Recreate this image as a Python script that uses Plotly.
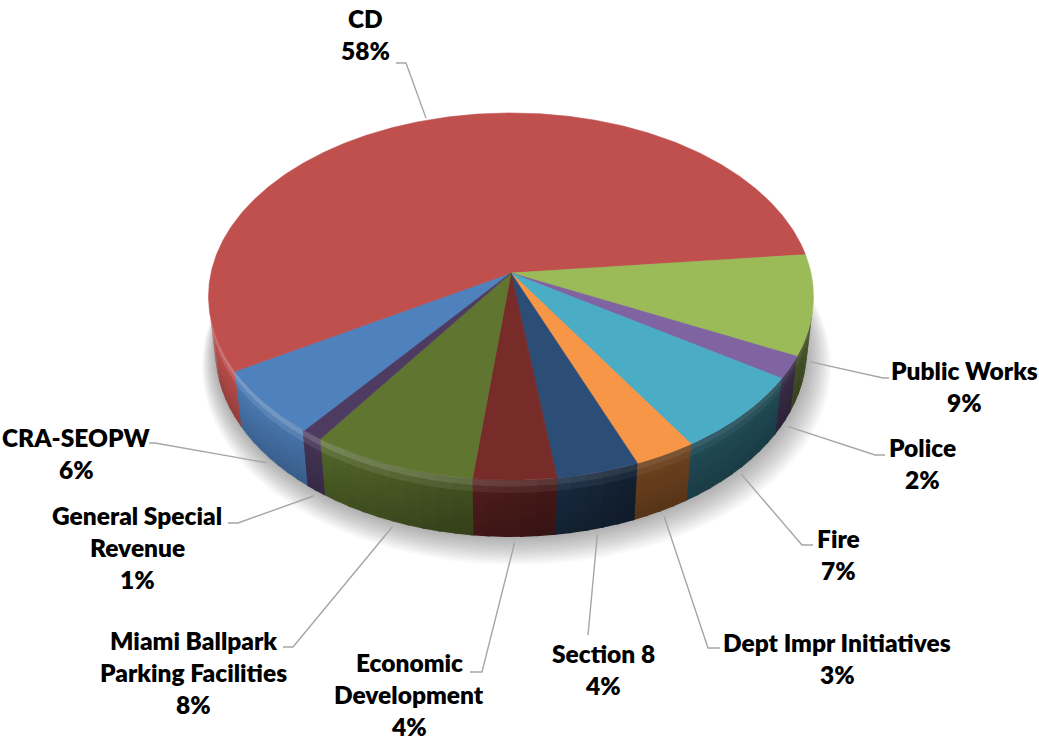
import numpy as np
import plotly.graph_objects as go

# Share of funding by department (percent, as labelled), clockwise order
categories = [
    "CRA-SEOPW",
    "CD",
    "Public Works",
    "Police",
    "Fire",
    "Dept Impr Initiatives",
    "Section 8",
    "Economic<br>Development",
    "Miami Ballpark<br>Parking Facilities",
    "General Special<br>Revenue",
]
percent = [6, 58, 9, 2, 7, 3, 4, 4, 8, 1]
colors = ["#4F81BD", "#C0504D", "#9BBB59", "#8064A2", "#4BACC6",
          "#F79646", "#2C4D75", "#772C2A", "#5F7530", "#4D3B62"]

# Label placement: centre x, y of first text line, leader elbow, leader end
label_layout = {
    "CRA-SEOPW": (76, 437, (155, 443), (149, 443)),
    "CD": (365, 18, (406, 63), (396, 63)),
    "Public Works": (964, 370, (883, 378), (889, 378)),
    "Police": (922, 447, (875, 455), (885, 455)),
    "Fire": (838, 538, (802, 545), (813, 545)),
    "Dept Impr Initiatives": (837, 642, (708, 648), (720, 648)),
    "Section 8": (603, 653, (588, 635), (588, 635)),
    "Economic<br>Development": (409, 662, (482, 672), (470, 672)),
    "Miami Ballpark<br>Parking Facilities": (193, 640, (293, 647), (283, 647)),
    "General Special<br>Revenue": (137, 515, (238, 523), (228, 523)),
}
LINE_GAP = 32.0

W, H = 1039, 742

# --- perspective projection of a tilted 3D disc -------------------------
CX, CY = 511, 273          # screen position of the pie centre
TILT = np.radians(37)
COS_T, SIN_T = np.cos(TILT), np.sin(TILT)
DIST = 6.23
FOCAL = 1869
THICK = 0.2316
START = 231.8              # angle where the first slice begins (deg)
LIGHT_DIR = 200.0          # wall facing this way is lit the most


def project(t_deg, r=1.0, z=0.0):
    t = np.radians(np.asarray(t_deg, dtype=float))
    X = r * np.cos(t)
    Y = r * np.sin(t)
    yv = Y * SIN_T + z * COS_T
    d = DIST + Y * COS_T - z * SIN_T
    return CX + FOCAL * X / d, CY - FOCAL * yv / d


def shade(hex_color, factor, mix_white=0.0):
    h = hex_color.lstrip("#")
    rgb = np.array([int(h[i:i + 2], 16) for i in (0, 2, 4)], dtype=float)
    rgb = rgb * factor
    rgb = rgb * (1 - mix_white) + 255 * mix_white
    rgb = np.clip(rgb, 0, 255).astype(int)
    return "rgb(%d,%d,%d)" % tuple(rgb)


def poly(fig, xs, ys, color):
    fig.add_trace(go.Scatter(x=xs, y=ys, fill="toself", mode="lines",
                             line=dict(width=0), fillcolor=color,
                             hoverinfo="skip"))


total = float(sum(percent))
spans = [p / total * 360.0 for p in percent]
bounds = []
a = START
for s in spans:
    bounds.append((a - s, a))   # (low, high), drawn clockwise
    a -= s

fig = go.Figure()

# soft drop shadow under the disc
tt_all = np.linspace(0, 360, 361)
for k in range(14, 0, -1):
    sx, sy = project(tt_all, r=1.0 + 0.0045 * k, z=-THICK)
    fig.add_trace(go.Scatter(x=sx + 0.4 * k, y=sy + 0.9 * k, fill="toself", mode="lines",
                             line=dict(width=0), fillcolor="rgba(0,0,0,0.022)",
                             hoverinfo="skip"))

# visible part of the cylinder wall, shaded by facing direction and height;
# each patch overlaps the next one drawn so no hairline gaps show
vis = np.degrees(np.arcsin(1.0 / (DIST * COS_T)))
V1, V2 = 180 + vis, 360 - vis
N_STRIPS = 9
SEG = 3.0
for (lo, hi), col in zip(bounds, colors):
    for k in (-360, 0, 360):
        a0, a1 = max(lo, V1 + k), min(hi, V2 + k)
        if a1 <= a0:
            continue
        nseg = max(1, int(np.ceil((a1 - a0) / SEG)))
        edges = np.linspace(a0, a1, nseg + 1)
        for j in range(nseg):
            b0, b1 = edges[j], edges[j + 1]
            tm = (b0 + b1) / 2
            light = max(0.0, np.cos(np.radians(tm - LIGHT_DIR)))
            base = 0.45 + 0.55 * light
            tt = np.linspace(max(b0 - 0.5, V1 + k), b1, 5)
            for i in range(N_STRIPS):
                u0, u1 = i / N_STRIPS, (i + 1) / N_STRIPS
                um = (u0 + u1) / 2
                factor = base * (1.0 - 0.22 * um)
                white = max(0.0, 0.25 - um) * (0.5 + 0.7 * light)
                x0, y0 = project(tt, z=-THICK * u0)
                x1, y1 = project(tt[::-1], z=-THICK * min(1.0, u1 + 0.03))
                poly(fig, np.concatenate([x0, x1]), np.concatenate([y0, y1]),
                     shade(col, factor, white))

# top faces of the slices
for (lo, hi), col, name in zip(bounds, colors, categories):
    tt = np.linspace(hi, lo, max(10, int((hi - lo) * 2)))
    rx, ry = project(tt)
    xs = np.concatenate([[CX], rx, [CX]])
    ys = np.concatenate([[CY], ry, [CY]])
    fig.add_trace(go.Scatter(x=xs, y=ys, fill="toself", mode="lines",
                             line=dict(width=0.6, color=col), fillcolor=col,
                             name=name.replace("<br>", " "), hoverinfo="name"))

# leader lines and labels
annotations = []
for (lo, hi), name, p in zip(bounds, categories, percent):
    mid = (lo + hi) / 2
    z = -THICK * 1.03 if np.sin(np.radians(mid)) < 0 else 0.0
    ax, ay = project(mid, r=1.015, z=z)
    cx, cy, elbow, end = label_layout[name]
    fig.add_trace(go.Scatter(x=[float(ax), elbow[0], end[0]],
                             y=[float(ay), elbow[1], end[1]],
                             mode="lines", line=dict(color="#A6A6A6", width=1.4),
                             hoverinfo="skip"))
    lines = name.split("<br>") + ["%d%%" % p]
    for i, txt in enumerate(lines):
        annotations.append(dict(
            x=cx, y=cy + i * LINE_GAP, xref="x", yref="y", text=txt,
            showarrow=False, xanchor="center", yanchor="middle",
            font=dict(family="Lato, Calibri, sans-serif", size=24.5,
                      weight=800, color="#000000")))

fig.update_layout(
    width=W, height=H,
    margin=dict(l=0, r=0, t=0, b=0),
    paper_bgcolor="white", plot_bgcolor="white",
    showlegend=False,
    xaxis=dict(range=[0, W], visible=False, fixedrange=True),
    yaxis=dict(range=[H, 0], visible=False, fixedrange=True),
    annotations=annotations,
)

fig.write_html("out.html")
